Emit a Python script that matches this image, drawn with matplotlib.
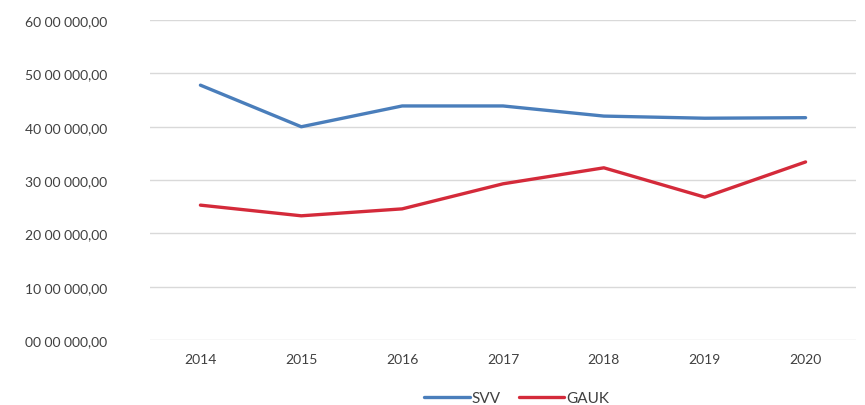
import matplotlib
matplotlib.use("Agg")
import matplotlib.pyplot as plt
from matplotlib.ticker import FuncFormatter, MultipleLocator

years = ["2014", "2015", "2016", "2017", "2018", "2019", "2020"]
svv = [4780000, 4000000, 4390000, 4390000, 4200000, 4160000, 4170000]
gauk = [2530000, 2330000, 2460000, 2930000, 3230000, 2680000, 3340000]

plt.rcParams['font.family'] = ['Lato', 'DejaVu Sans']

def indian_fmt(v, pos):
    # mask like "00 00 000,00"
    s = "%07d" % int(round(v))
    return s[:-5] + " " + s[-5:-3] + " " + s[-3:] + ",00"

fig = plt.figure(figsize=(8.65, 4.06), dpi=100)
ax = fig.add_axes([0.1734, 0.160, 0.8162, 0.788])

x = list(range(len(years)))
ax.plot(x, svv, color='#4a7ebb', lw=2.4, label='SVV', solid_capstyle='round')
ax.plot(x, gauk, color='#d42a3a', lw=2.4, label='GAUK', solid_capstyle='round')

ax.set_xlim(-0.5, len(years) - 0.5)
ax.set_ylim(0, 6000000)
ax.yaxis.set_major_locator(MultipleLocator(1000000))
ax.yaxis.set_major_formatter(FuncFormatter(indian_fmt))
ax.set_xticks(x)
ax.set_xticklabels(years)
ax.grid(axis='y', color='#d9d9d9', lw=1)
ax.set_axisbelow(True)
for s in ax.spines.values():
    s.set_visible(False)
ax.tick_params(length=0, labelsize=10, colors='#404040')
ax.tick_params(axis='y', pad=31)
ax.tick_params(axis='x', pad=9)

fig.legend(loc='lower center', bbox_to_anchor=(0.597, -0.035), ncol=2, frameon=False,
           fontsize=11, handlelength=3.0, columnspacing=1.2, handletextpad=0.1,
           labelcolor='#404040')

fig.savefig("out.png", dpi=100)
